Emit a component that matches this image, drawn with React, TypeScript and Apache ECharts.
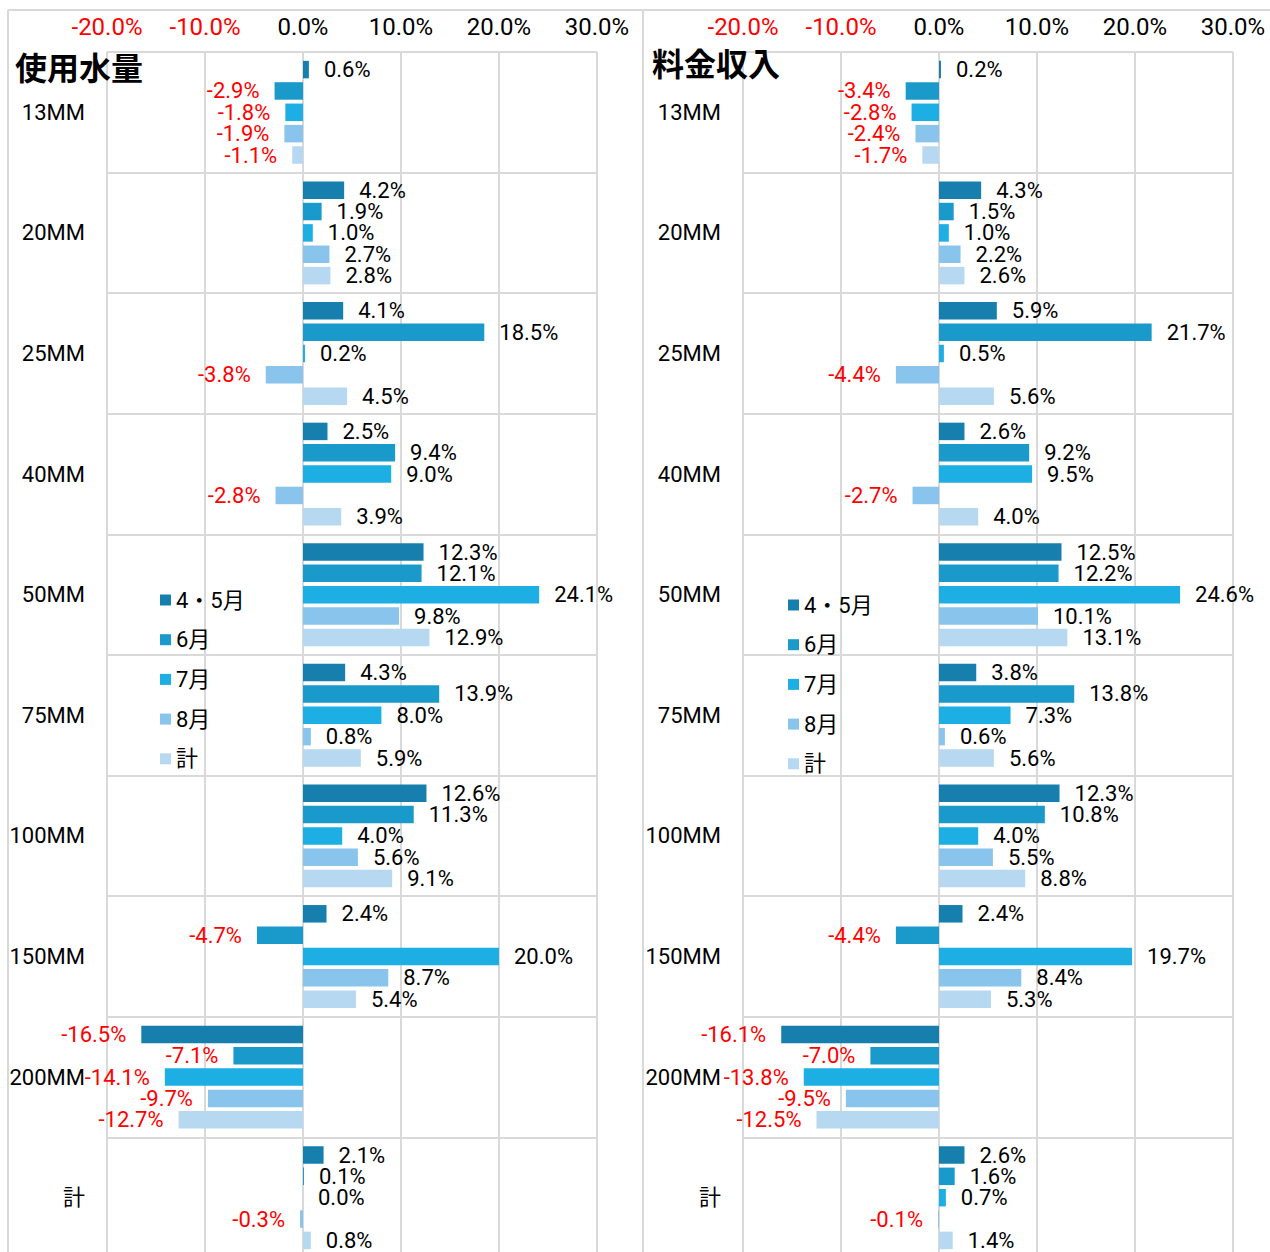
import React, { useEffect, useRef } from 'react';
import * as echarts from 'echarts';

const categories = ['13MM', '20MM', '25MM', '40MM', '50MM', '75MM', '100MM', '150MM', '200MM', '計'];
const seriesNames = ['4・5月', '6月', '7月', '8月', '計'];
const seriesColors = ['#177FAD', '#1A9ACB', '#1DAEE3', '#88C4EB', '#B7D8F1'];
const panelTitles = ['使用水量', '料金収入'];
const axisMin = -20;
const axisMax = 30;
const axisInterval = 10;

// 使用水量
const water45 = [0.6, 4.2, 4.1, 2.5, 12.3, 4.3, 12.6, 2.4, -16.5, 2.1];
const water6 = [-2.9, 1.9, 18.5, 9.4, 12.1, 13.9, 11.3, -4.7, -7.1, 0.1];
const water7 = [-1.8, 1.0, 0.2, 9.0, 24.1, 8.0, 4.0, 20.0, -14.1, 0.0];
const water8 = [-1.9, 2.7, -3.8, -2.8, 9.8, 0.8, 5.6, 8.7, -9.7, -0.3];
const waterTotal = [-1.1, 2.8, 4.5, 3.9, 12.9, 5.9, 9.1, 5.4, -12.7, 0.8];

// 料金収入
const fee45 = [0.2, 4.3, 5.9, 2.6, 12.5, 3.8, 12.3, 2.4, -16.1, 2.6];
const fee6 = [-3.4, 1.5, 21.7, 9.2, 12.2, 13.8, 10.8, -4.4, -7.0, 1.6];
const fee7 = [-2.8, 1.0, 0.5, 9.5, 24.6, 7.3, 4.0, 19.7, -13.8, 0.7];
const fee8 = [-2.4, 2.2, -4.4, -2.7, 10.1, 0.6, 5.5, 8.4, -9.5, -0.1];
const feeTotal = [-1.7, 2.6, 5.6, 4.0, 13.1, 5.6, 8.8, 5.3, -12.5, 1.4];

const FONT = "Roboto, 'Noto Sans CJK JP', sans-serif";
const CJK = "'Noto Sans CJK JP', sans-serif";
const GRID_COLOR = '#d9d9d9';

function App() {
  const ref = useRef<HTMLDivElement>(null);

  useEffect(() => {
    if (!ref.current) return;
    const chart = echarts.init(ref.current, undefined, { renderer: 'svg' });

    const panels = [
      [water45, water6, water7, water8, waterTotal],
      [fee45, fee6, fee7, fee8, feeTotal],
    ];
    const gridLefts = [107, 743];

    const series: any[] = [];
    panels.forEach((panel, pi) => {
      panel.forEach((vals, si) => {
        series.push({
          type: 'bar',
          name: seriesNames[si],
          xAxisIndex: pi,
          yAxisIndex: pi,
          barWidth: 17.5,
          barGap: '22%',
          itemStyle: { color: seriesColors[si] },
          label: {
            show: true,
            fontSize: 22,
            lineHeight: 20,
            fontFamily: FONT,
            distance: 15,
            formatter: (p: any) => Number(p.value).toFixed(1) + '%',
          },
          data: vals.map((v) => ({
            value: v,
            label: {
              position: v < 0 ? 'left' : 'right',
              color: v < 0 ? '#ff0000' : '#000000',
            },
          })),
        });
      });
    });

    const legendText = { fontSize: 22, lineHeight: 28, fontFamily: FONT, color: '#000' };

    const option: any = {
      animation: false,
      backgroundColor: '#ffffff',
      title: [
        {
          text: panelTitles[0],
          left: 15,
          top: 50,
          padding: 0,
          textStyle: { fontSize: 32, fontWeight: 'bold', fontFamily: CJK, color: '#000' },
        },
        {
          text: panelTitles[1],
          left: 652,
          top: 46,
          padding: 0,
          textStyle: { fontSize: 32, fontWeight: 'bold', fontFamily: CJK, color: '#000' },
        },
      ],
      legend: [
        {
          data: seriesNames,
          orient: 'vertical',
          left: 160,
          top: 586,
          padding: 0,
          itemWidth: 11,
          itemHeight: 11,
          itemGap: 11.7,
          icon: 'rect',
          textStyle: legendText,
        },
        {
          data: seriesNames,
          orient: 'vertical',
          left: 788,
          top: 591,
          padding: 0,
          itemWidth: 11,
          itemHeight: 11,
          itemGap: 11.7,
          icon: 'rect',
          textStyle: legendText,
        },
      ],
      grid: gridLefts.map((l) => ({ left: l, width: 490, top: 52, height: 1206, containLabel: false })),
      xAxis: gridLefts.map((_, i) => ({
        type: 'value',
        gridIndex: i,
        position: 'top',
        min: axisMin,
        max: axisMax,
        interval: axisInterval,
        axisLine: { show: false },
        axisTick: { show: false },
        splitLine: { show: true, lineStyle: { color: GRID_COLOR, width: 2 } },
        axisLabel: {
          fontSize: 24,
          fontFamily: FONT,
          margin: 13,
          formatter: (v: number) => v.toFixed(1) + '%',
          color: (v: any) => (Number(v) < 0 ? '#ff0000' : '#000000'),
        },
      })),
      yAxis: gridLefts.map((_, i) => ({
        type: 'category',
        gridIndex: i,
        inverse: true,
        data: categories,
        axisLine: { show: false },
        axisTick: { show: false },
        splitLine: { show: true, lineStyle: { color: GRID_COLOR, width: 2 } },
        axisLabel: { fontSize: 22, fontFamily: FONT, color: '#000', margin: 22 },
      })),
      graphic: [
        { type: 'line', shape: { x1: 8, y1: 10, x2: 1270, y2: 10 }, style: { stroke: GRID_COLOR, lineWidth: 2 } },
        { type: 'line', shape: { x1: 8, y1: 10, x2: 8, y2: 1262 }, style: { stroke: GRID_COLOR, lineWidth: 2 } },
        { type: 'line', shape: { x1: 643, y1: 10, x2: 643, y2: 1262 }, style: { stroke: GRID_COLOR, lineWidth: 2 } },
      ],
      series,
    };

    chart.setOption(option);
    return () => chart.dispose();
  }, []);

  return (
    <div style={{ position: 'absolute', left: 0, top: 0, width: 1270, height: 1252, overflow: 'hidden' }}>
      <div ref={ref} style={{ width: 1270, height: 1262 }} />
    </div>
  );
}

export default App;
